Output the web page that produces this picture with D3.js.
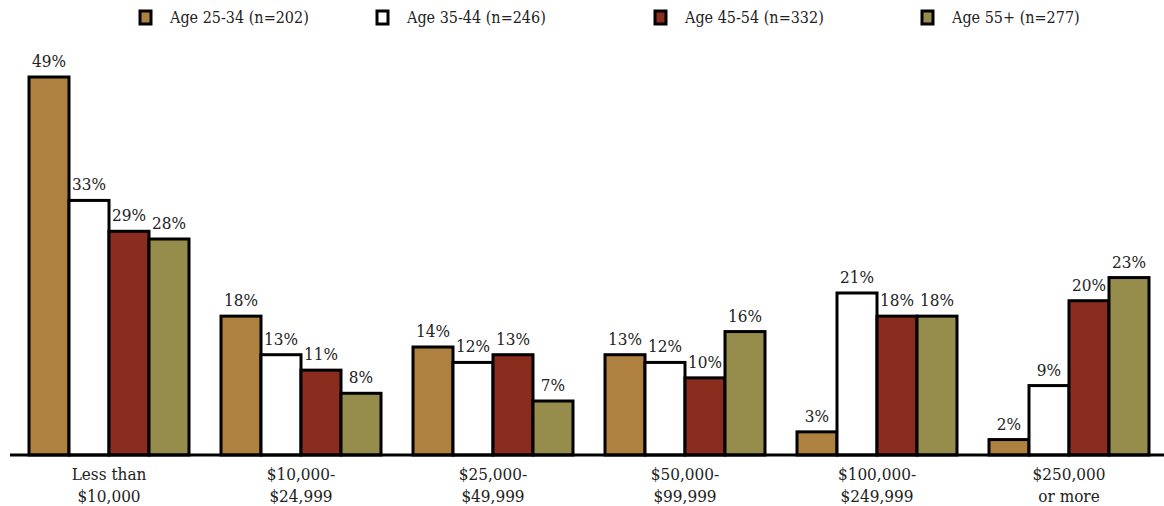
<!DOCTYPE html>
<html>
<head>
<meta charset="utf-8">
<script src="https://cdn.jsdelivr.net/npm/d3@7"></script>
<style>
  body { margin: 0; background: #fff; }
  text { font-family: "DejaVu Serif Condensed", "DejaVu Serif", serif; font-stretch: condensed; fill: #222; }
</style>
</head>
<body>
<script>
// chart size
var w = 1164, h = 506;

// categories and series
var categories = [["Less than", "$10,000"], ["$10,000-", "$24,999"], ["$25,000-", "$49,999"],
                  ["$50,000-", "$99,999"], ["$100,000-", "$249,999"], ["$250,000", "or more"]];
var seriesNames = ["Age 25-34 (n=202)", "Age 35-44 (n=246)", "Age 45-54 (n=332)", "Age 55+ (n=277)"];
var age2534 = [49, 18, 14, 13, 3, 2];
var age3544 = [33, 13, 12, 12, 21, 9];
var age4554 = [29, 11, 13, 10, 18, 20];
var age55 = [28, 8, 7, 16, 18, 23];
var seriesValues = [age2534, age3544, age4554, age55];
var colors = ["#ae8141", "#ffffff", "#8a2d1e", "#968c4b"];

var svg = d3.select("body").append("svg")
    .attr("width", w)
    .attr("height", h);

// scales
var x0 = d3.scaleBand()
    .domain(d3.range(categories.length))
    .range([13, 1165])
    .paddingInner(1 / 6)
    .paddingOuter(1 / 12);

var x1 = d3.scaleBand()
    .domain(d3.range(seriesNames.length))
    .range([0, x0.bandwidth()]);

var y = d3.scaleLinear()
    .domain([0, 49])
    .range([455, 77]);

// table of bars
var rows = [];
categories.forEach(function(c, i){
    seriesValues.forEach(function(vals, s){
        rows.push({cat: i, s: s, v: vals[i]});
    });
});

var groups = svg.selectAll(".bar")
    .data(rows)
    .enter()
    .append("g")
    .attr("class", "bar")
    .attr("transform", function(d){ return "translate(" + (x0(d.cat) + x1(d.s)) + ",0)"; });

groups.append("rect")
    .attr("x", 0)
    .attr("y", function(d){ return y(d.v); })
    .attr("width", x1.bandwidth())
    .attr("height", function(d){ return y(0) - y(d.v); })
    .style("fill", function(d){ return colors[d.s]; })
    .style("stroke", "#000")
    .style("stroke-width", 3);

groups.append("text")
    .attr("x", x1.bandwidth() / 2)
    .attr("y", function(d){ return y(d.v) - 10; })
    .attr("text-anchor", "middle")
    .style("font-size", "17px")
    .text(function(d){ return d.v + "%"; });

// baseline
svg.append("line")
    .attr("x1", 10).attr("x2", w)
    .attr("y1", y(0)).attr("y2", y(0))
    .style("stroke", "#000")
    .style("stroke-width", 3);

// category labels
var catLabels = svg.selectAll(".cat")
    .data(categories)
    .enter()
    .append("text")
    .attr("class", "cat")
    .attr("text-anchor", "middle")
    .attr("y", 480)
    .style("font-size", "17px");

catLabels.selectAll("tspan")
    .data(function(d, i){ return d.map(function(t){ return {t: t, i: i}; }); })
    .enter()
    .append("tspan")
    .attr("x", function(d){ return x0(d.i) + x0.bandwidth() / 2; })
    .attr("dy", function(d, j){ return j === 0 ? 0 : 22; })
    .text(function(d){ return d.t; });

// legend
var legendX = [140, 377, 655, 922];
var legend = svg.selectAll(".legend")
    .data(seriesNames)
    .enter()
    .append("g")
    .attr("class", "legend")
    .attr("transform", function(d, i){ return "translate(" + legendX[i] + ",11)"; });

legend.append("rect")
    .attr("width", 11)
    .attr("height", 13)
    .style("fill", function(d, i){ return colors[i]; })
    .style("stroke", "#000")
    .style("stroke-width", 3);

legend.append("text")
    .attr("x", 30)
    .attr("y", 12)
    .style("font-size", "16px")
    .text(function(d){ return d; });
</script>
</body>
</html>
